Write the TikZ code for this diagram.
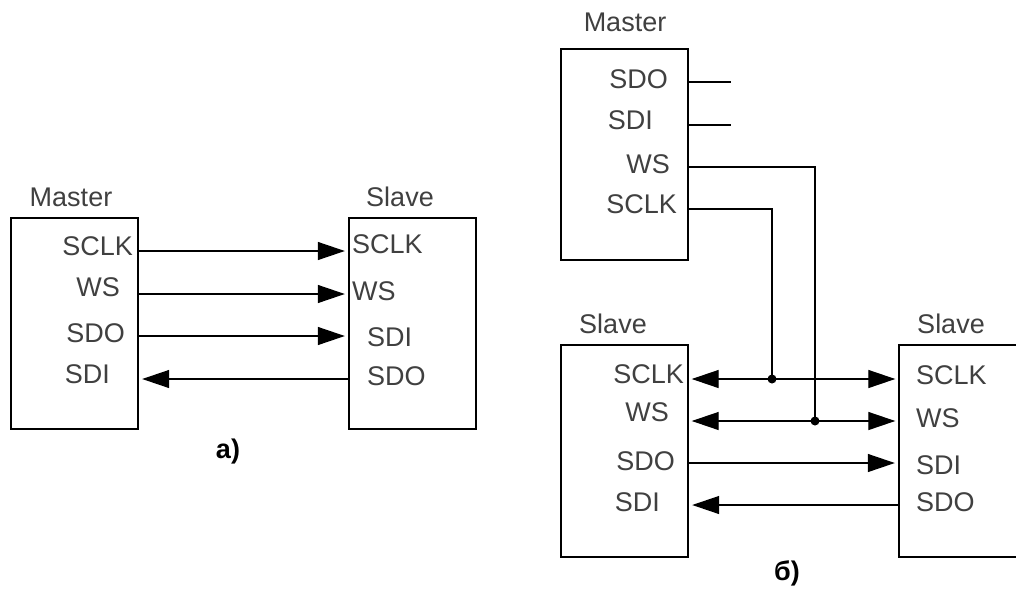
\documentclass[tikz,border=0pt]{standalone}
\usepackage{fontspec}
\setmainfont{Liberation Sans}
\usepackage{tikz}
\usetikzlibrary{arrows.meta,positioning}

\begin{document}
\begin{tikzpicture}[x=1pt,y=-1pt,font=\fontsize{27}{30}\selectfont,
  blk/.style={draw,line width=1.4pt,minimum width=127pt,minimum height=211pt,
              inner sep=0pt},
  pin/.style={inner sep=0pt,text=black!75},
  ttl/.style={inner sep=0pt,text=black!75},
  sig/.style={line width=1.3pt,shorten >=3.5pt,shorten <=0pt,
              -{Triangle[length=27pt,width=18pt]}},
  bi/.style={line width=1.3pt,shorten >=3pt,shorten <=3pt,
             {Triangle[length=27pt,width=18pt]}-{Triangle[length=27pt,width=18pt]}},
  wire/.style={line width=1.3pt}]
  \clip (0,0) rectangle (1016,592);
  % a)
  \node[blk] (ma) at (74.5,323.5) {};
  \node[blk] (sa) at (412.5,323.5) {};
  \node[ttl] (ma-t) at (71,197) {Master};
  \node[ttl] (sa-t) at (400,197) {Slave};
  \node[pin,anchor=east] (ma-sclk) at (133,246) {SCLK};
  \node[pin,anchor=east] (ma-ws)   at (120,287) {WS};
  \node[pin,anchor=east] (ma-sdo)  at (125,333) {SDO};
  \node[pin,anchor=east] (ma-sdi)  at (110,374) {SDI};
  \node[pin,anchor=west] (sa-sclk) at (352,244) {SCLK};
  \node[pin,anchor=west] (sa-ws)   at (352,291) {WS};
  \node[pin,anchor=west] (sa-sdi)  at (367,337) {SDI};
  \node[pin,anchor=west] (sa-sdo)  at (367,376) {SDO};
  \draw[sig] (ma.east |- 0,251) -- (sa.west |- 0,251);
  \draw[sig] (ma.east |- 0,294) -- (sa.west |- 0,294);
  \draw[sig] (ma.east |- 0,336) -- (sa.west |- 0,336);
  \draw[sig] (sa.west |- 0,379) -- (ma.east |- 0,379);
  \node[ttl,text=black,font=\fontsize{27}{30}\selectfont\bfseries] (cap-a) at (228,452) {а)};
  % б)
  \node[blk] (mb) at (624.5,154.5) {};
  \node[blk,minimum height=212pt] (sl) at (624.5,451) {};
  \node[blk,minimum height=212pt] (sr) at (962.5,451) {};
  \node[ttl] (mb-t) at (625,22) {Master};
  \node[ttl] (sl-t) at (613,324) {Slave};
  \node[ttl] (sr-t) at (951,324) {Slave};
  \node[pin,anchor=east] (mb-sdo)  at (668,79) {SDO};
  \node[pin,anchor=east] (mb-sdi)  at (653,120) {SDI};
  \node[pin,anchor=east] (mb-ws)   at (670,164) {WS};
  \node[pin,anchor=east] (mb-sclk) at (677,204) {SCLK};
  \node[pin,anchor=east] (sl-sclk) at (684,374) {SCLK};
  \node[pin,anchor=east] (sl-ws)   at (669,412) {WS};
  \node[pin,anchor=east] (sl-sdo)  at (675,461) {SDO};
  \node[pin,anchor=east] (sl-sdi)  at (660,502) {SDI};
  \node[pin,anchor=west] (sr-sclk) at (916,375) {SCLK};
  \node[pin,anchor=west] (sr-ws)   at (916,418) {WS};
  \node[pin,anchor=west] (sr-sdi)  at (916,465) {SDI};
  \node[pin,anchor=west] (sr-sdo)  at (916,502) {SDO};
  \coordinate (jc) at (772,379);
  \coordinate (jw) at (815,421);
  \draw[wire] (mb.east |- 0,82) -- ++(42,0);
  \draw[wire] (mb.east |- 0,125) -- ++(42,0);
  \draw[wire] (mb.east |- 0,167) -| (jw);
  \draw[wire] (mb.east |- 0,209) -| (jc);
  \draw[bi] (sl.east |- jc) -- (sr.west |- jc);
  \draw[bi] (sl.east |- jw) -- (sr.west |- jw);
  \draw[sig] (sl.east |- 0,463) -- (sr.west |- 0,463);
  \draw[sig] (sr.west |- 0,505) -- (sl.east |- 0,505);
  \fill (jc) circle (4.5pt) (jw) circle (4.5pt);
  \node[ttl,text=black,font=\fontsize{27}{30}\selectfont\bfseries] (cap-b) at (787,573) {б)};
\end{tikzpicture}
\end{document}
